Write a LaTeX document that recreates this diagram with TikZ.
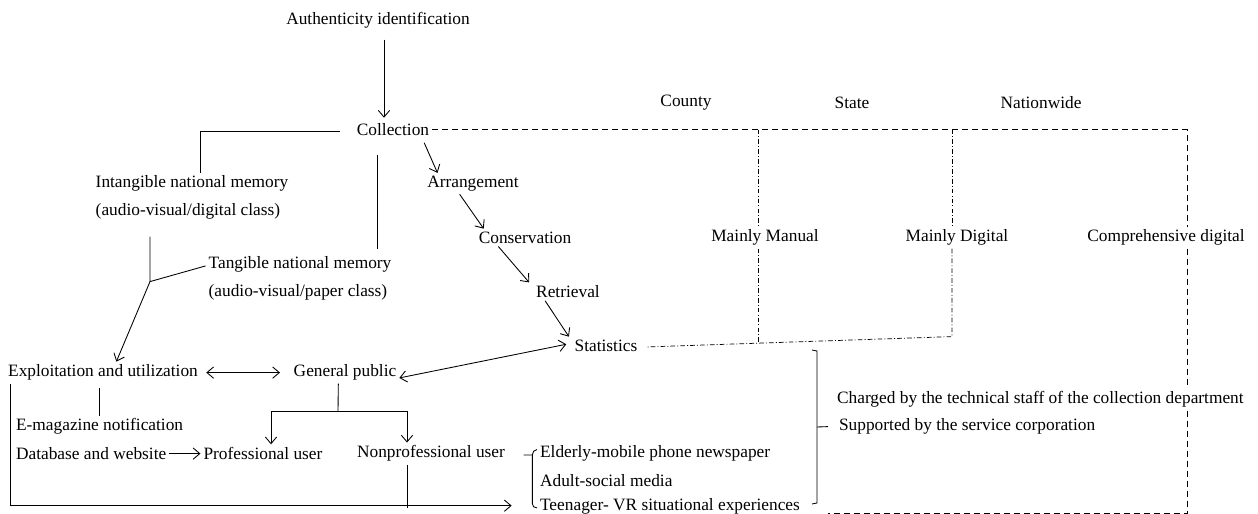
\documentclass[tikz,border=0pt]{standalone}
\usepackage{fontspec}
\setmainfont{Liberation Serif}
\usetikzlibrary{arrows,arrows.meta}
\tikzset{
	dashline/.style={dash pattern=on 4.5pt off 3pt, line width=0.55pt},
	dashdotline/.style={dash pattern=on 3.5pt off 1.6pt on 0.7pt off 1.6pt, line width=0.55pt}
}
\begin{document}
\begin{tikzpicture}[x=0.75pt, y=-0.75pt, >={Straight Barb[length=5pt,width=8.5pt]}, line width=0.65pt,
		every node/.style={font=\fontsize{13}{21}\selectfont, inner sep=2pt, yshift=-1.2pt}]
		\useasboundingbox (0,0) rectangle (1258,514);
		\node (AI) at (378,19) 
			{Authenticity identification}; 
		\node (CO) at (393,128) 
			{Collection}; 
		\node (CY) at (686,101) 
			{County}; 
		\node (SE) at (852,101) 
			{State}; 
		\node (NW) at (1041,101) 
			{Nationwide}; 
		\node (IM) [align=left] at (192,196) 
			{Intangible national memory\\(audio-visual/digital class)}; 
		\node (TM) [align=left] at (300,277) 
			{Tangible national memory\\(audio-visual/paper class)}; 
		\node (AR) at (473,182) 
			{Arrangement}; 
		\node (CS) at (525,236) 
			{Conservation}; 
		\node (RE) at (568,290) 
			{Retrieval}; 
		\node (ST) at (606,344) 
			{Statistics}; 
		\node (MM) at (765,236) 
			{Mainly Manual}; 
		\node (MD) at (957,236) 
			{Mainly Digital}; 
		\node (CD) at (1166,236) 
			{Comprehensive digital}; 
		\node (EU) at (103,371) 
			{Exploitation and utilization}; 
		\node (GP) at (345,371) 
			{General public}; 
		\node (EM) [anchor=west] at (13,425) 
			{E-magazine notification}; 
		\node (DW) [anchor=west] at (13,452) 
			{Database and website}; 
		\node (PU) at (263,452) 
			{Professional user}; 
		\node (NU) at (431,452) 
			{Nonprofessional user}; 
		\node (EL) [anchor=west] at (537,452) 
			{Elderly-mobile phone newspaper}; 
		\node (AD) [anchor=west] at (537,479) 
			{Adult-social media}; 
		\node (TE) [anchor=west] at (537,505) 
			{Teenager- VR situational experiences}; 
		\node (CH) [anchor=west] at (834,398) 
			{Charged by the technical staff of the collection department}; 
		\node (SU) [anchor=west] at (836,425) 
			{Supported by the service corporation}; 
		\coordinate (COcut) at (377,153);
		\coordinate (TMtop) at (377,247);
		\coordinate (IMbot) at (150,235);
		\coordinate (fork) at (150,280);
		\coordinate (GPfork) at (338,410);
		\coordinate (NUbot) at (407,506);
		\coordinate (NE) at (1187,128);
		\coordinate (SW) at (828,512);
		\coordinate (MMtop) at (758,128);
		\coordinate (MMbot) at (758,342);
		\coordinate (MDtop) at (952,128);
		\coordinate (MDbot) at (952,335);
		\draw [->] ([xshift=4.5pt,yshift=-6pt]AI.south) to 
			([xshift=-6.75pt,yshift=2pt]CO.north);
		\draw ([xshift=-10pt,yshift=-1pt]CO.west) -| 
			([xshift=6pt]IM.north);
		\draw (COcut) -- (TMtop);
		\draw (IMbot) -- (fork) -- 
			([yshift=9.5pt]TM.west);
		\draw [->] (fork) to 
			([xshift=10pt]EU.north);
		\draw [->] ([xshift=-6pt,yshift=-3pt]CO.south east) to 
			([xshift=10pt]AR.north west);
		\draw [->] ([xshift=-10pt]AR.south) to 
			([xshift=6pt]CS.north west);
		\draw [->] ([xshift=17pt]CS.south west) to 
			([xshift=-3pt]RE.north west);
		\draw [->] ([xshift=9pt]RE.south west) to 
			([xshift=-2pt]ST.north west);
		\draw [<->] ([xshift=4pt]EU.east) to 
			([xshift=-8pt]GP.west);
		\draw [<->] ([yshift=-4pt]GP.east) to 
			([xshift=-4pt,yshift=1pt]ST.west);
		\draw ([yshift=-3pt]EM.north |- EU.south) -- (EM.north);
		\draw ([xshift=-5pt]GP.south) -- (GPfork);
		\draw [->] (GPfork) -| 
			([xshift=6pt]PU.north);
		\draw [->] (GPfork) -| 
			([xshift=-18pt]NU.north);
		\draw [->] (DW.east) to 
			(PU.west);
		\draw (NU.south -| NUbot) -- (NUbot);
		\draw [->] ([xshift=4pt]EU.south west) |- 
			([xshift=-19pt,yshift=0.7pt]TE.west);
		\draw ([xshift=-10pt,yshift=-1pt]EL.west) -- ([xshift=-3.5pt,yshift=-1pt]EL.west) 
			to [out=90,in=180] ([xshift=0pt,yshift=3pt]EL.west);
		\draw ([xshift=-3.5pt,yshift=-1pt]EL.west) -- ([xshift=-3.5pt,yshift=2pt]TE.west) 
			to [out=-90,in=180] ([xshift=0pt,yshift=-1pt]TE.west);
		\draw (812,350) -- (817,351) -- (817,503) -- (812,504);
		\draw (817,427) -- ([xshift=-6pt]SU.west);
		\draw [dashline] (CO.east) -- (NE) -- 
			(NE |- CD.north);
		\draw [dashline] (NE |- CD.south) -- 
			(NE |- CH.north);
		\draw [dashline] (NE |- CH.south) -- 
			(NE |- SW) -- (SW);
		\draw [dashdotline] (MMtop) -- 
			(MMtop |- MM.north);
		\draw [dashdotline] (MMtop |- MM.south) -- 
			(MMbot);
		\draw [dashdotline] (MDtop) -- 
			(MDtop |- MD.north);
		\draw [dashdotline] (MDtop |- MD.south) -- (MDbot) -- 
			([xshift=5pt,yshift=-1pt]ST.east);
	\end{tikzpicture}
\end{document}
